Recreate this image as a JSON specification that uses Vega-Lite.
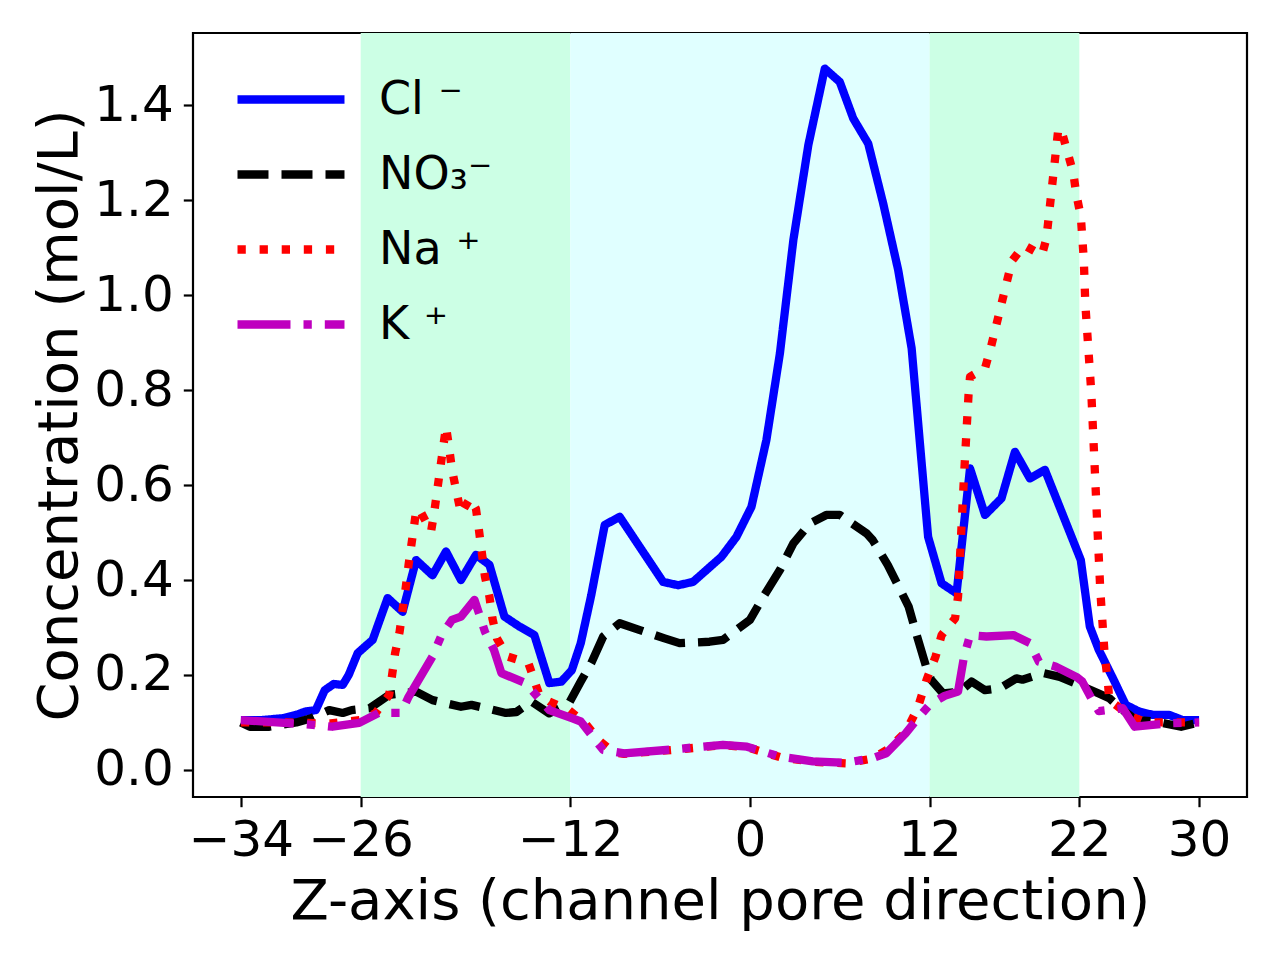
{
  "$schema": "https://vega.github.io/schema/vega-lite/v6.json",
  "width": 1054,
  "height": 764,
  "autosize": "none",
  "padding": {"left": 193, "top": 33, "right": 33, "bottom": 163},
  "background": "white",
  "config": {
    "font": "DejaVu Sans",
    "view": {"stroke": "black", "strokeWidth": 2.2},
    "axis": {
      "domain": false,
      "grid": false,
      "tickColor": "black",
      "tickWidth": 2.2,
      "tickSize": 9.7,
      "labelColor": "black",
      "labelFontSize": 50,
      "labelFont": "DejaVu Sans",
      "titleColor": "black",
      "titleFontSize": 56,
      "titleFont": "DejaVu Sans",
      "titleFontWeight": "normal",
      "labelFlush": false,
      "labelOverlap": false
    },
    "legend": {
      "orient": "none",
      "legendX": 40,
      "legendY": 29,
      "padding": 0,
      "symbolType": "stroke",
      "symbolSize": 11449,
      "symbolStrokeWidth": 8.3,
      "labelFontSize": 46,
      "labelFont": "DejaVu Sans",
      "labelColor": "black",
      "labelOffset": 30,
      "labelBaseline": "middle",
      "clipHeight": 75,
      "rowPadding": 0
    }
  },
  "datasets": {
    "bands": [
      {"from": -26, "to": -12, "zone": "side"},
      {"from": -12, "to": 12, "zone": "center"},
      {"from": 12, "to": 22, "zone": "side"}
    ],
    "profiles": [
      {"ion": "Cl ⁻", "z": -34, "c": 0.105},
      {"ion": "Cl ⁻", "z": -32.6, "c": 0.105},
      {"ion": "Cl ⁻", "z": -31.2, "c": 0.109},
      {"ion": "Cl ⁻", "z": -30.3, "c": 0.116},
      {"ion": "Cl ⁻", "z": -29.7, "c": 0.123},
      {"ion": "Cl ⁻", "z": -29.0, "c": 0.126},
      {"ion": "Cl ⁻", "z": -28.4, "c": 0.168},
      {"ion": "Cl ⁻", "z": -27.8, "c": 0.181},
      {"ion": "Cl ⁻", "z": -27.2, "c": 0.179},
      {"ion": "Cl ⁻", "z": -26.8, "c": 0.2},
      {"ion": "Cl ⁻", "z": -26.2, "c": 0.246},
      {"ion": "Cl ⁻", "z": -25.2, "c": 0.274},
      {"ion": "Cl ⁻", "z": -24.2, "c": 0.362},
      {"ion": "Cl ⁻", "z": -23.2, "c": 0.333},
      {"ion": "Cl ⁻", "z": -22.3, "c": 0.442},
      {"ion": "Cl ⁻", "z": -21.2, "c": 0.41},
      {"ion": "Cl ⁻", "z": -20.3, "c": 0.46},
      {"ion": "Cl ⁻", "z": -19.3, "c": 0.4},
      {"ion": "Cl ⁻", "z": -18.3, "c": 0.453},
      {"ion": "Cl ⁻", "z": -17.4, "c": 0.432},
      {"ion": "Cl ⁻", "z": -16.4, "c": 0.323},
      {"ion": "Cl ⁻", "z": -15.4, "c": 0.302},
      {"ion": "Cl ⁻", "z": -14.4, "c": 0.284},
      {"ion": "Cl ⁻", "z": -13.4, "c": 0.183},
      {"ion": "Cl ⁻", "z": -12.6, "c": 0.186},
      {"ion": "Cl ⁻", "z": -11.9, "c": 0.21},
      {"ion": "Cl ⁻", "z": -11.3, "c": 0.267},
      {"ion": "Cl ⁻", "z": -10.6, "c": 0.368},
      {"ion": "Cl ⁻", "z": -9.7, "c": 0.516},
      {"ion": "Cl ⁻", "z": -8.7, "c": 0.533},
      {"ion": "Cl ⁻", "z": -5.8, "c": 0.396},
      {"ion": "Cl ⁻", "z": -4.8, "c": 0.389},
      {"ion": "Cl ⁻", "z": -3.8, "c": 0.396},
      {"ion": "Cl ⁻", "z": -1.9, "c": 0.449},
      {"ion": "Cl ⁻", "z": -0.9, "c": 0.491},
      {"ion": "Cl ⁻", "z": 0.1, "c": 0.554},
      {"ion": "Cl ⁻", "z": 1.1, "c": 0.695},
      {"ion": "Cl ⁻", "z": 2.0, "c": 0.877},
      {"ion": "Cl ⁻", "z": 2.9, "c": 1.116},
      {"ion": "Cl ⁻", "z": 3.9, "c": 1.316},
      {"ion": "Cl ⁻", "z": 5.0, "c": 1.477},
      {"ion": "Cl ⁻", "z": 6.0, "c": 1.449},
      {"ion": "Cl ⁻", "z": 6.9, "c": 1.372},
      {"ion": "Cl ⁻", "z": 7.9, "c": 1.319},
      {"ion": "Cl ⁻", "z": 8.9, "c": 1.193},
      {"ion": "Cl ⁻", "z": 9.9, "c": 1.053},
      {"ion": "Cl ⁻", "z": 10.8, "c": 0.888},
      {"ion": "Cl ⁻", "z": 11.9, "c": 0.491},
      {"ion": "Cl ⁻", "z": 12.8, "c": 0.393},
      {"ion": "Cl ⁻", "z": 13.8, "c": 0.372},
      {"ion": "Cl ⁻", "z": 14.7, "c": 0.635},
      {"ion": "Cl ⁻", "z": 15.7, "c": 0.537},
      {"ion": "Cl ⁻", "z": 16.8, "c": 0.572},
      {"ion": "Cl ⁻", "z": 17.7, "c": 0.67},
      {"ion": "Cl ⁻", "z": 18.7, "c": 0.614},
      {"ion": "Cl ⁻", "z": 19.7, "c": 0.632},
      {"ion": "Cl ⁻", "z": 20.9, "c": 0.537},
      {"ion": "Cl ⁻", "z": 22.1, "c": 0.442},
      {"ion": "Cl ⁻", "z": 22.7, "c": 0.302},
      {"ion": "Cl ⁻", "z": 23.3, "c": 0.253},
      {"ion": "Cl ⁻", "z": 24.2, "c": 0.196},
      {"ion": "Cl ⁻", "z": 25.1, "c": 0.137},
      {"ion": "Cl ⁻", "z": 26.0, "c": 0.123},
      {"ion": "Cl ⁻", "z": 26.9, "c": 0.116},
      {"ion": "Cl ⁻", "z": 28.0, "c": 0.116},
      {"ion": "Cl ⁻", "z": 28.9, "c": 0.105},
      {"ion": "Cl ⁻", "z": 30.0, "c": 0.105},

      {"ion": "NO₃⁻", "z": -34, "c": 0.1},
      {"ion": "NO₃⁻", "z": -33.4, "c": 0.091},
      {"ion": "NO₃⁻", "z": -32.1, "c": 0.091},
      {"ion": "NO₃⁻", "z": -30.3, "c": 0.1},
      {"ion": "NO₃⁻", "z": -29.3, "c": 0.109},
      {"ion": "NO₃⁻", "z": -28.1, "c": 0.126},
      {"ion": "NO₃⁻", "z": -27.2, "c": 0.12},
      {"ion": "NO₃⁻", "z": -26.6, "c": 0.126},
      {"ion": "NO₃⁻", "z": -25.4, "c": 0.13},
      {"ion": "NO₃⁻", "z": -24.1, "c": 0.158},
      {"ion": "NO₃⁻", "z": -22.3, "c": 0.165},
      {"ion": "NO₃⁻", "z": -21.2, "c": 0.147},
      {"ion": "NO₃⁻", "z": -19.3, "c": 0.133},
      {"ion": "NO₃⁻", "z": -18.6, "c": 0.137},
      {"ion": "NO₃⁻", "z": -16.3, "c": 0.12},
      {"ion": "NO₃⁻", "z": -15.6, "c": 0.122},
      {"ion": "NO₃⁻", "z": -14.6, "c": 0.144},
      {"ion": "NO₃⁻", "z": -13.4, "c": 0.119},
      {"ion": "NO₃⁻", "z": -12.1, "c": 0.14},
      {"ion": "NO₃⁻", "z": -11.3, "c": 0.186},
      {"ion": "NO₃⁻", "z": -10.6, "c": 0.225},
      {"ion": "NO₃⁻", "z": -9.8, "c": 0.281},
      {"ion": "NO₃⁻", "z": -8.7, "c": 0.309},
      {"ion": "NO₃⁻", "z": -7.4, "c": 0.295},
      {"ion": "NO₃⁻", "z": -5.7, "c": 0.277},
      {"ion": "NO₃⁻", "z": -4.7, "c": 0.267},
      {"ion": "NO₃⁻", "z": -2.7, "c": 0.27},
      {"ion": "NO₃⁻", "z": -1.8, "c": 0.274},
      {"ion": "NO₃⁻", "z": 0.0, "c": 0.316},
      {"ion": "NO₃⁻", "z": 0.9, "c": 0.365},
      {"ion": "NO₃⁻", "z": 2.0, "c": 0.421},
      {"ion": "NO₃⁻", "z": 2.9, "c": 0.477},
      {"ion": "NO₃⁻", "z": 4.0, "c": 0.519},
      {"ion": "NO₃⁻", "z": 5.1, "c": 0.537},
      {"ion": "NO₃⁻", "z": 6.0, "c": 0.537},
      {"ion": "NO₃⁻", "z": 7.8, "c": 0.498},
      {"ion": "NO₃⁻", "z": 8.2, "c": 0.484},
      {"ion": "NO₃⁻", "z": 9.2, "c": 0.432},
      {"ion": "NO₃⁻", "z": 10.6, "c": 0.344},
      {"ion": "NO₃⁻", "z": 11.1, "c": 0.288},
      {"ion": "NO₃⁻", "z": 11.8, "c": 0.214},
      {"ion": "NO₃⁻", "z": 12.1, "c": 0.19},
      {"ion": "NO₃⁻", "z": 12.9, "c": 0.161},
      {"ion": "NO₃⁻", "z": 14.0, "c": 0.165},
      {"ion": "NO₃⁻", "z": 14.8, "c": 0.186},
      {"ion": "NO₃⁻", "z": 15.7, "c": 0.168},
      {"ion": "NO₃⁻", "z": 16.7, "c": 0.172},
      {"ion": "NO₃⁻", "z": 17.8, "c": 0.193},
      {"ion": "NO₃⁻", "z": 18.2, "c": 0.19},
      {"ion": "NO₃⁻", "z": 19.6, "c": 0.204},
      {"ion": "NO₃⁻", "z": 20.7, "c": 0.196},
      {"ion": "NO₃⁻", "z": 22.0, "c": 0.179},
      {"ion": "NO₃⁻", "z": 23.3, "c": 0.161},
      {"ion": "NO₃⁻", "z": 24.0, "c": 0.151},
      {"ion": "NO₃⁻", "z": 24.9, "c": 0.126},
      {"ion": "NO₃⁻", "z": 25.8, "c": 0.105},
      {"ion": "NO₃⁻", "z": 27.1, "c": 0.102},
      {"ion": "NO₃⁻", "z": 28.8, "c": 0.091},
      {"ion": "NO₃⁻", "z": 30.0, "c": 0.1},

      {"ion": "Na ⁺", "z": -34, "c": 0.1},
      {"ion": "Na ⁺", "z": -31, "c": 0.1},
      {"ion": "Na ⁺", "z": -28, "c": 0.098},
      {"ion": "Na ⁺", "z": -26, "c": 0.105},
      {"ion": "Na ⁺", "z": -25, "c": 0.12},
      {"ion": "Na ⁺", "z": -24.1, "c": 0.158},
      {"ion": "Na ⁺", "z": -23.9, "c": 0.2},
      {"ion": "Na ⁺", "z": -23.7, "c": 0.246},
      {"ion": "Na ⁺", "z": -23.4, "c": 0.291},
      {"ion": "Na ⁺", "z": -23.2, "c": 0.337},
      {"ion": "Na ⁺", "z": -23.0, "c": 0.382},
      {"ion": "Na ⁺", "z": -22.8, "c": 0.432},
      {"ion": "Na ⁺", "z": -22.6, "c": 0.477},
      {"ion": "Na ⁺", "z": -22.3, "c": 0.544},
      {"ion": "Na ⁺", "z": -22.1, "c": 0.55},
      {"ion": "Na ⁺", "z": -21.3, "c": 0.502},
      {"ion": "Na ⁺", "z": -21.1, "c": 0.54},
      {"ion": "Na ⁺", "z": -20.9, "c": 0.586},
      {"ion": "Na ⁺", "z": -20.7, "c": 0.632},
      {"ion": "Na ⁺", "z": -20.5, "c": 0.677},
      {"ion": "Na ⁺", "z": -20.3, "c": 0.723},
      {"ion": "Na ⁺", "z": -20.1, "c": 0.68},
      {"ion": "Na ⁺", "z": -19.9, "c": 0.632},
      {"ion": "Na ⁺", "z": -19.6, "c": 0.586},
      {"ion": "Na ⁺", "z": -19.3, "c": 0.54},
      {"ion": "Na ⁺", "z": -18.7, "c": 0.572},
      {"ion": "Na ⁺", "z": -18.3, "c": 0.55},
      {"ion": "Na ⁺", "z": -18.1, "c": 0.505},
      {"ion": "Na ⁺", "z": -17.9, "c": 0.456},
      {"ion": "Na ⁺", "z": -17.7, "c": 0.407},
      {"ion": "Na ⁺", "z": -17.4, "c": 0.365},
      {"ion": "Na ⁺", "z": -17.2, "c": 0.319},
      {"ion": "Na ⁺", "z": -16.9, "c": 0.277},
      {"ion": "Na ⁺", "z": -16.2, "c": 0.239},
      {"ion": "Na ⁺", "z": -14.8, "c": 0.225},
      {"ion": "Na ⁺", "z": -14.1, "c": 0.161},
      {"ion": "Na ⁺", "z": -13.4, "c": 0.144},
      {"ion": "Na ⁺", "z": -12.1, "c": 0.126},
      {"ion": "Na ⁺", "z": -11.0, "c": 0.098},
      {"ion": "Na ⁺", "z": -10.0, "c": 0.06},
      {"ion": "Na ⁺", "z": -9.1, "c": 0.037},
      {"ion": "Na ⁺", "z": -8.4, "c": 0.034},
      {"ion": "Na ⁺", "z": -5.6, "c": 0.041},
      {"ion": "Na ⁺", "z": -1.8, "c": 0.052},
      {"ion": "Na ⁺", "z": -0.2, "c": 0.048},
      {"ion": "Na ⁺", "z": 2.0, "c": 0.027},
      {"ion": "Na ⁺", "z": 4.2, "c": 0.017},
      {"ion": "Na ⁺", "z": 6.4, "c": 0.014},
      {"ion": "Na ⁺", "z": 8.2, "c": 0.024},
      {"ion": "Na ⁺", "z": 9.3, "c": 0.045},
      {"ion": "Na ⁺", "z": 10.4, "c": 0.08},
      {"ion": "Na ⁺", "z": 11.2, "c": 0.13},
      {"ion": "Na ⁺", "z": 11.8, "c": 0.19},
      {"ion": "Na ⁺", "z": 12.4, "c": 0.239},
      {"ion": "Na ⁺", "z": 12.8, "c": 0.284},
      {"ion": "Na ⁺", "z": 13.7, "c": 0.319},
      {"ion": "Na ⁺", "z": 13.9, "c": 0.365},
      {"ion": "Na ⁺", "z": 14.3, "c": 0.62},
      {"ion": "Na ⁺", "z": 14.6, "c": 0.79},
      {"ion": "Na ⁺", "z": 14.7, "c": 0.828},
      {"ion": "Na ⁺", "z": 15.7, "c": 0.846},
      {"ion": "Na ⁺", "z": 16.1, "c": 0.891},
      {"ion": "Na ⁺", "z": 17.5, "c": 1.072},
      {"ion": "Na ⁺", "z": 18.3, "c": 1.105},
      {"ion": "Na ⁺", "z": 19.5, "c": 1.084},
      {"ion": "Na ⁺", "z": 19.8, "c": 1.119},
      {"ion": "Na ⁺", "z": 20.6, "c": 1.351},
      {"ion": "Na ⁺", "z": 20.8, "c": 1.347},
      {"ion": "Na ⁺", "z": 21.2, "c": 1.302},
      {"ion": "Na ⁺", "z": 21.6, "c": 1.257},
      {"ion": "Na ⁺", "z": 21.8, "c": 1.212},
      {"ion": "Na ⁺", "z": 22.1, "c": 1.166},
      {"ion": "Na ⁺", "z": 22.3, "c": 1.074},
      {"ion": "Na ⁺", "z": 22.4, "c": 0.982},
      {"ion": "Na ⁺", "z": 22.6, "c": 0.888},
      {"ion": "Na ⁺", "z": 22.8, "c": 0.795},
      {"ion": "Na ⁺", "z": 23.0, "c": 0.656},
      {"ion": "Na ⁺", "z": 23.2, "c": 0.516},
      {"ion": "Na ⁺", "z": 23.4, "c": 0.379},
      {"ion": "Na ⁺", "z": 23.7, "c": 0.239},
      {"ion": "Na ⁺", "z": 23.9, "c": 0.189},
      {"ion": "Na ⁺", "z": 24.0, "c": 0.147},
      {"ion": "Na ⁺", "z": 25.5, "c": 0.112},
      {"ion": "Na ⁺", "z": 26.5, "c": 0.1},
      {"ion": "Na ⁺", "z": 30.0, "c": 0.1},

      {"ion": "K ⁺", "z": -34, "c": 0.105},
      {"ion": "K ⁺", "z": -30.6, "c": 0.098},
      {"ion": "K ⁺", "z": -29.2, "c": 0.095},
      {"ion": "K ⁺", "z": -27.9, "c": 0.091},
      {"ion": "K ⁺", "z": -26.1, "c": 0.099},
      {"ion": "K ⁺", "z": -24.8, "c": 0.12},
      {"ion": "K ⁺", "z": -23.3, "c": 0.12},
      {"ion": "K ⁺", "z": -22.8, "c": 0.154},
      {"ion": "K ⁺", "z": -21.2, "c": 0.239},
      {"ion": "K ⁺", "z": -20.6, "c": 0.284},
      {"ion": "K ⁺", "z": -19.9, "c": 0.316},
      {"ion": "K ⁺", "z": -19.3, "c": 0.323},
      {"ion": "K ⁺", "z": -18.4, "c": 0.358},
      {"ion": "K ⁺", "z": -18.1, "c": 0.33},
      {"ion": "K ⁺", "z": -17.7, "c": 0.291},
      {"ion": "K ⁺", "z": -17.1, "c": 0.253},
      {"ion": "K ⁺", "z": -16.6, "c": 0.204},
      {"ion": "K ⁺", "z": -15.0, "c": 0.183},
      {"ion": "K ⁺", "z": -13.4, "c": 0.126},
      {"ion": "K ⁺", "z": -11.9, "c": 0.109},
      {"ion": "K ⁺", "z": -11.3, "c": 0.102},
      {"ion": "K ⁺", "z": -10.6, "c": 0.074},
      {"ion": "K ⁺", "z": -9.8, "c": 0.042},
      {"ion": "K ⁺", "z": -8.4, "c": 0.035},
      {"ion": "K ⁺", "z": -5.6, "c": 0.042},
      {"ion": "K ⁺", "z": -1.8, "c": 0.053},
      {"ion": "K ⁺", "z": -0.2, "c": 0.049},
      {"ion": "K ⁺", "z": 2.0, "c": 0.028},
      {"ion": "K ⁺", "z": 4.2, "c": 0.018},
      {"ion": "K ⁺", "z": 6.4, "c": 0.015},
      {"ion": "K ⁺", "z": 8.2, "c": 0.025},
      {"ion": "K ⁺", "z": 9.1, "c": 0.035},
      {"ion": "K ⁺", "z": 10.4, "c": 0.077},
      {"ion": "K ⁺", "z": 11.3, "c": 0.112},
      {"ion": "K ⁺", "z": 12.0, "c": 0.137},
      {"ion": "K ⁺", "z": 13.0, "c": 0.156},
      {"ion": "K ⁺", "z": 13.9, "c": 0.165},
      {"ion": "K ⁺", "z": 14.3, "c": 0.239},
      {"ion": "K ⁺", "z": 14.7, "c": 0.284},
      {"ion": "K ⁺", "z": 15.8, "c": 0.281},
      {"ion": "K ⁺", "z": 17.6, "c": 0.284},
      {"ion": "K ⁺", "z": 18.7, "c": 0.267},
      {"ion": "K ⁺", "z": 19.3, "c": 0.228},
      {"ion": "K ⁺", "z": 20.4, "c": 0.218},
      {"ion": "K ⁺", "z": 21.8, "c": 0.196},
      {"ion": "K ⁺", "z": 22.2, "c": 0.186},
      {"ion": "K ⁺", "z": 22.8, "c": 0.151},
      {"ion": "K ⁺", "z": 23.3, "c": 0.124},
      {"ion": "K ⁺", "z": 24.9, "c": 0.13},
      {"ion": "K ⁺", "z": 25.7, "c": 0.091},
      {"ion": "K ⁺", "z": 27.8, "c": 0.098},
      {"ion": "K ⁺", "z": 30.0, "c": 0.1}
    ]
  },
  "layer": [
    {
      "data": {"name": "bands"},
      "mark": {"type": "rect"},
      "encoding": {
        "x": {
          "field": "from",
          "type": "quantitative",
          "scale": {"domain": [-37.2, 33.2], "nice": false, "zero": false},
          "axis": {
            "values": [-34, -26, -12, 0, 12, 22, 30],
            "title": "Z-axis (channel pore direction)",
            "labelPadding": 9,
            "titleBaseline": "alphabetic",
            "titleY": 121
          }
        },
        "x2": {"field": "to"},
        "fill": {
          "field": "zone",
          "type": "nominal",
          "scale": {"domain": ["side", "center"], "range": ["#ccffe5", "#e0ffff"]},
          "legend": null
        }
      }
    },
    {
      "data": {"name": "profiles"},
      "mark": {"type": "line", "strokeWidth": 8.3, "strokeJoin": "round"},
      "encoding": {
        "x": {"field": "z", "type": "quantitative"},
        "y": {
          "field": "c",
          "type": "quantitative",
          "scale": {"domain": [-0.057, 1.552], "nice": false, "zero": false},
          "axis": {
            "values": [0, 0.2, 0.4, 0.6, 0.8, 1.0, 1.2, 1.4],
            "format": ".1f",
            "title": "Concentration (mol/L)",
            "labelPadding": 10,
            "titleBaseline": "alphabetic",
            "titleX": -117
          }
        },
        "stroke": {
          "field": "ion",
          "type": "nominal",
          "title": null,
          "scale": {
            "domain": ["Cl ⁻", "NO₃⁻", "Na ⁺", "K ⁺"],
            "range": ["#0000ff", "#000000", "#ff0000", "#bf00bf"]
          }
        },
        "strokeDash": {
          "field": "ion",
          "type": "nominal",
          "title": null,
          "scale": {
            "domain": ["Cl ⁻", "NO₃⁻", "Na ⁺", "K ⁺"],
            "range": [[1, 0], [31, 13], [8.3, 13.8], [53, 13, 8.3, 13]]
          }
        }
      }
    }
  ]
}
